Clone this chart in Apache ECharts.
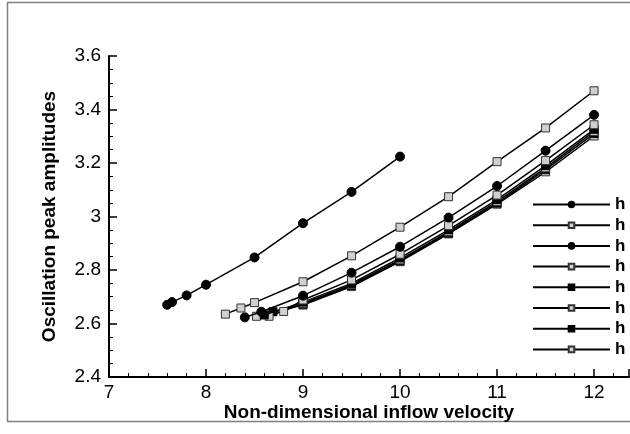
<!DOCTYPE html>
<html>
<head>
<meta charset="utf-8">
<script src="https://cdn.jsdelivr.net/npm/echarts@6/dist/echarts.min.js"></script>
<style>
  html, body { margin: 0; padding: 0; background: #fff; }
  #chart { width: 630px; height: 434px; }
</style>
</head>
<body>
<div id="chart"></div>
<script>
// Peak oscillation amplitude versus non-dimensional inflow velocity, one curve per h.
const seriesNames = ['h = 0.1', 'h = 0.2', 'h = 0.3', 'h = 0.4', 'h = 0.5', 'h = 0.6', 'h = 0.7', 'h = 0.8'];
const seriesSymbols = ['circle', 'rect', 'circle', 'rect', 'rect', 'rect', 'rect', 'rect'];
const seriesFills = ['#000', '#d0d0d0', '#000', '#d0d0d0', '#000', '#d0d0d0', '#000', '#d0d0d0'];

const velocity1 = [7.6, 7.65, 7.8, 8, 8.5, 9, 9.5, 10];
const amplitude1 = [2.670, 2.680, 2.705, 2.745, 2.847, 2.975, 3.092, 3.224];

const velocity2 = [8.2, 8.36, 8.5, 9, 9.5, 10, 10.5, 11, 11.5, 12];
const amplitude2 = [2.635, 2.658, 2.678, 2.756, 2.853, 2.960, 3.074, 3.205, 3.331, 3.470];

const velocity3 = [8.4, 8.57, 9, 9.5, 10, 10.5, 11, 11.5, 12];
const amplitude3 = [2.623, 2.644, 2.704, 2.790, 2.887, 2.996, 3.114, 3.246, 3.380];

const velocity4 = [8.8, 9, 9.5, 10, 10.5, 11, 11.5, 12];
const amplitude4 = [2.645, 2.688, 2.763, 2.859, 2.966, 3.080, 3.209, 3.343];

const velocity5 = [8.6, 9, 9.5, 10, 10.5, 11, 11.5, 12];
const amplitude5 = [2.632, 2.680, 2.750, 2.845, 2.950, 3.063, 3.190, 3.326];

const velocity6 = [8.65, 9, 9.5, 10, 10.5, 11, 11.5, 12];
const amplitude6 = [2.627, 2.675, 2.745, 2.838, 2.943, 3.056, 3.182, 3.318];

const velocity7 = [8.69, 9, 9.5, 10, 10.5, 11, 11.5, 12];
const amplitude7 = [2.644, 2.672, 2.742, 2.834, 2.938, 3.050, 3.175, 3.310];

const velocity8 = [8.52, 9, 9.5, 10, 10.5, 11, 11.5, 12];
const amplitude8 = [2.627, 2.669, 2.738, 2.831, 2.935, 3.046, 3.167, 3.301];

const xTicks = [7, 8, 9, 10, 11, 12];
const yTicks = [2.4, 2.6, 2.8, 3, 3.2, 3.4, 3.6];

const velocities = [velocity1, velocity2, velocity3, velocity4, velocity5, velocity6, velocity7, velocity8];
const amplitudes = [amplitude1, amplitude2, amplitude3, amplitude4, amplitude5, amplitude6, amplitude7, amplitude8];

const FONT = '"Liberation Sans", Arial, sans-serif';

const series = seriesNames.map((name, i) => ({
  name: name,
  type: 'line',
  data: velocities[i].map((v, k) => [v, amplitudes[i][k]]),
  symbol: seriesSymbols[i],
  symbolSize: seriesSymbols[i] === 'circle' ? 9 : 8,
  showAllSymbol: true,
  lineStyle: { color: '#000', width: 1.5 },
  itemStyle: {
    color: seriesFills[i],
    borderColor: seriesFills[i] === '#000' ? '#000' : '#333',
    borderWidth: 1
  },
  emphasis: { disabled: true },
  animation: false,
  z: 10 - i
}));

const chart = echarts.init(document.getElementById('chart'), null, { renderer: 'canvas' });
chart.setOption({
  backgroundColor: '#fff',
  animation: false,
  graphic: [{
    type: 'rect',
    shape: { x: 7.5, y: 2.5, width: 640, height: 419 },
    style: { fill: null, stroke: '#808080', lineWidth: 1.5 },
    silent: true,
    z: -1
  }],
  grid: { left: 109, top: 56, bottom: 57, right: 1, containLabel: false },
  legend: {
    orient: 'vertical',
    left: 532,
    top: 196,
    itemWidth: 77,
    itemHeight: 7,
    itemGap: 3.7,
    padding: 0,
    textStyle: { fontFamily: FONT, fontWeight: 'bold', fontSize: 17, lineHeight: 17, color: '#000' },
    data: seriesNames.map(n => ({ name: n }))
  },
  xAxis: {
    type: 'value',
    min: 7,
    max: 12.36,
    interval: 1,
    name: 'Non-dimensional inflow velocity',
    nameLocation: 'middle',
    nameGap: 26,
    nameMoveOverlap: false,
    nameTextStyle: { fontFamily: FONT, fontWeight: 'bold', fontSize: 19, color: '#000' },
    axisLine: { show: true, onZero: false, lineStyle: { color: '#000', width: 2 } },
    axisTick: { show: true, inside: true, length: 8, lineStyle: { color: '#000', width: 1.5 } },
    minorTick: { show: true, splitNumber: 5, length: 4, lineStyle: { color: '#000', width: 1 } },
    splitLine: { show: false },
    axisLabel: {
      fontFamily: FONT, fontSize: 19, color: '#000', margin: 6,
      formatter: v => (xTicks.indexOf(Math.round(v * 100) / 100) >= 0 ? String(v) : ''),
      showMaxLabel: false
    }
  },
  yAxis: {
    type: 'value',
    min: 2.4,
    max: 3.6,
    interval: 0.2,
    name: 'Oscillation peak amplitudes',
    nameLocation: 'middle',
    nameGap: 50,
    nameMoveOverlap: false,
    nameTextStyle: { fontFamily: FONT, fontWeight: 'bold', fontSize: 19, color: '#000' },
    axisLine: { show: true, onZero: false, lineStyle: { color: '#000', width: 2 } },
    axisTick: { show: true, inside: true, length: 8, lineStyle: { color: '#000', width: 1.5 } },
    minorTick: { show: true, splitNumber: 4, length: 4, lineStyle: { color: '#000', width: 1 } },
    splitLine: { show: false },
    axisLabel: {
      fontFamily: FONT, fontSize: 19, color: '#000', margin: 8,
      formatter: v => {
        const r = Math.round(v * 10) / 10;
        return yTicks.indexOf(r) >= 0 ? String(r) : '';
      }
    }
  },
  series: series
});
</script>
</body>
</html>
